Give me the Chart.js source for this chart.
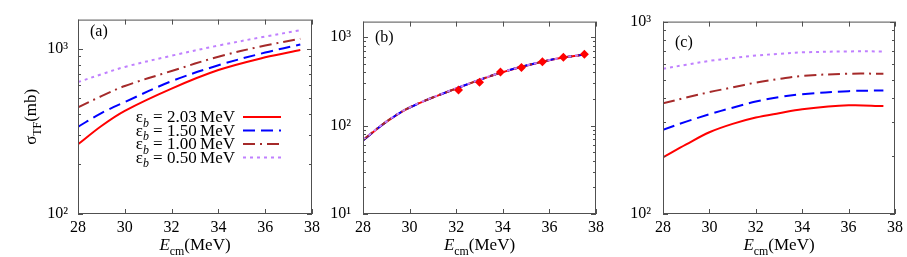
<!DOCTYPE html>
<html>
<head>
<meta charset="utf-8">
<script src="https://cdn.jsdelivr.net/npm/chart.js@4/dist/chart.umd.min.js"></script>
<style>
  html, body { margin: 0; padding: 0; background: #fff; }
  #wrap { position: relative; width: 907px; height: 257px; overflow: hidden; }
  #wrap canvas { position: absolute; top: 0; }
</style>
</head>
<body>
<div id="wrap">
  <canvas id="pa" width="330" height="257" style="left:0"></canvas>
  <canvas id="pb" width="300" height="257" style="left:320px"></canvas>
  <canvas id="pc" width="287" height="257" style="left:620px"></canvas>
</div>
<script>
// --- data --------------------------------------------------------------
var X_TICKS = [28, 30, 32, 34, 36, 38];
var EB_LABELS = ['2.03', '1.50', '1.00', '0.50'];

// (a)
var XA = [28, 29, 30, 32, 34, 36, 37.5];
var A_203 = [264, 341, 421, 574, 743, 887, 982];
var A_150 = [337, 408, 476, 636, 794, 948, 1059];
var A_100 = [442, 516, 595, 733, 895, 1045, 1148];
var A_050 = [628, 700, 776, 907, 1045, 1184, 1293];
var YA_TICKS = [100, 1000];
var YA_LABELS = ['10\u00b2', '10\u00b3'];

// (b)
var XB = [28, 29, 30, 32, 34, 36, 37.5];
var B_203 = [68, 110, 160, 262, 402, 549, 637];
var B_150 = [68, 110, 160, 263, 403, 550, 638];
var B_100 = [69, 111, 161, 263, 403, 550, 638];
var B_050 = [69, 111, 161, 264, 404, 551, 639];
var EXP_X = [32.1, 33.0, 33.9, 34.8, 35.7, 36.6, 37.5];
var EXP_Y = [252, 309, 405, 455, 528, 591, 643];
var YB_TICKS = [10, 100, 1000];
var YB_LABELS = ['10\u00b9', '10\u00b2', '10\u00b3'];

// (c)
var XC = [28, 29, 30, 31, 32, 33, 34, 36, 37.5];
var C_203 = [197, 230, 266, 294, 317, 334, 350, 367, 364];
var C_150 = [274, 302, 330, 357, 384, 405, 419, 435, 439];
var C_100 = [376, 403, 430, 455, 482, 503, 522, 536, 536];
var C_050 = [568, 597, 625, 646, 666, 680, 692, 700, 700];
var YC_TICKS = [100, 1000];
var YC_LABELS = ['10\u00b2', '10\u00b3'];

// --- styling ------------------------------------------------------------
var FONT = "'Liberation Serif', 'DejaVu Serif', serif";
var AXIS = '#505050';
var STYLES = [
  { color: '#ff0000', dash: [] },
  { color: '#0000ff', dash: [12, 6] },
  { color: '#a52a2a', dash: [12, 5, 2, 5] },
  { color: '#c080ff', dash: [3, 4] }
];

function pts(xs, ys) { return xs.map(function (x, i) { return { x: x, y: ys[i] }; }); }

function curves(xs, series) {
  return series.map(function (ys, i) {
    return {
      data: pts(xs, ys), borderColor: STYLES[i].color, borderDash: STYLES[i].dash,
      borderWidth: 2, pointRadius: 0, fill: false, tension: 0.35,
      order: 3 - i
    };
  });
}

// text with italic / sub-script pieces, drawn left to right from x
function richWidth(ctx, parts, size) {
  var w = 0;
  parts.forEach(function (p) {
    var s = p.sub ? size * 0.7 : size;
    ctx.font = (p.it ? 'italic ' : '') + s + 'px ' + FONT;
    w += ctx.measureText(p.t).width;
  });
  return w;
}
function richText(ctx, parts, x, y, size) {
  ctx.textBaseline = 'alphabetic';
  ctx.textAlign = 'left';
  parts.forEach(function (p) {
    var s = p.sub ? size * 0.7 : size;
    ctx.font = (p.it ? 'italic ' : '') + s + 'px ' + FONT;
    ctx.fillText(p.t, x, y + (p.sub ? size * 0.28 : 0));
    x += ctx.measureText(p.t).width;
  });
}

var decor = {
  id: 'decor',
  afterDraw: function (chart, args, o) {
    var ctx = chart.ctx, a = chart.chartArea;
    var xs = chart.scales.x, ys = chart.scales.y;
    ctx.save();
    ctx.strokeStyle = AXIS;
    ctx.lineWidth = 1;
    ctx.strokeRect(a.left + 0.5, a.top + 0.5, a.right - a.left - 1, a.bottom - a.top - 1);

    ctx.beginPath();
    X_TICKS.forEach(function (v) {
      var px = Math.round(xs.getPixelForValue(v)) + 0.5;
      ctx.moveTo(px, a.bottom); ctx.lineTo(px, a.bottom - 5);
      ctx.moveTo(px, a.top); ctx.lineTo(px, a.top + 5);
    });
    // log ticks: decades long, 2..9 short
    for (var d = Math.pow(10, Math.floor(Math.log10(ys.min))); d <= ys.max; d *= 10) {
      for (var m = 1; m <= 9; m++) {
        var v = d * m;
        if (v < ys.min * 0.999 || v > ys.max * 1.001) continue;
        var py = Math.round(ys.getPixelForValue(v)) + 0.5;
        var len = m === 1 ? 5 : 3;
        ctx.moveTo(a.left, py); ctx.lineTo(a.left + len, py);
        ctx.moveTo(a.right, py); ctx.lineTo(a.right - len, py);
      }
    }
    ctx.stroke();

    ctx.fillStyle = '#000';
    ctx.font = '16px ' + FONT;
    ctx.textBaseline = 'middle';
    ctx.fillText(o.label, a.left + 12, a.top + o.labelDy);

    // x title
    var xt = [{ t: 'E', it: true }, { t: 'cm', sub: true }, { t: '(MeV)' }];
    var w = richWidth(ctx, xt, 17);
    richText(ctx, xt, (a.left + a.right) / 2 - w / 2, 250, 17);

    if (o.yTitle) {
      var yt = [{ t: '\u03c3' }, { t: 'TF', sub: true }, { t: '(mb)' }];
      var wy = richWidth(ctx, yt, 17);
      ctx.save();
      ctx.translate(36, (a.top + a.bottom) / 2);
      ctx.rotate(-Math.PI / 2);
      richText(ctx, yt, -wy / 2, 0, 17);
      ctx.restore();
    }

    if (o.legend) {
      EB_LABELS.forEach(function (lab, i) {
        var y = 117 + i * 13.5;
        var parts = [{ t: '\u03b5' }, { t: 'b', it: true, sub: true }, { t: ' = ' + lab + '\u2009MeV' }];
        var lw = richWidth(ctx, parts, 17);
        richText(ctx, parts, 235 - lw, y + 5, 17);
        ctx.beginPath();
        ctx.strokeStyle = STYLES[i].color;
        ctx.setLineDash(STYLES[i].dash);
        ctx.lineWidth = 2;
        ctx.moveTo(243, y); ctx.lineTo(281, y);
        ctx.stroke();
      });
      ctx.setLineDash([]);
    }
    ctx.restore();
  }
};

function panel(id, datasets, ymin, ymax, yTicks, yLabels, yWidth, yPad, padRight, deco) {
  return new Chart(document.getElementById(id), {
    type: 'line',
    data: { datasets: datasets },
    options: {
      responsive: false, animation: false,
      layout: { padding: { left: 0, right: padRight, top: 11, bottom: 0 } },
      plugins: { legend: { display: false }, tooltip: { enabled: false }, decor: deco },
      scales: {
        x: {
          type: 'linear', min: 28, max: 38,
          afterBuildTicks: function (s) { s.ticks = X_TICKS.map(function (v) { return { value: v }; }); },
          afterFit: function (s) { s.height = 43; },
          grid: { display: false, drawTicks: false }, border: { display: false },
          ticks: { color: '#000', font: { family: FONT, size: 16 }, padding: 4, maxRotation: 0 }
        },
        y: {
          type: 'logarithmic', min: ymin, max: ymax,
          afterBuildTicks: function (s) { s.ticks = yTicks.map(function (v) { return { value: v }; }); },
          afterFit: function (s) { s.width = yWidth; },
          grid: { display: false, drawTicks: false }, border: { display: false },
          ticks: {
            color: '#000', font: { family: FONT, size: 16 }, padding: yPad,
            callback: function (v) { var i = yTicks.indexOf(v); return i < 0 ? '' : yLabels[i]; }
          }
        }
      }
    },
    plugins: [decor]
  });
}

panel('pa', curves(XA, [A_203, A_150, A_100, A_050]), 100, 1500, YA_TICKS, YA_LABELS, 78, 10, 18,
  { label: '(a)', labelDy: 12, yTitle: true, legend: true });

var dsB = curves(XB, [B_203, B_150, B_100, B_050]);
dsB.push({
  data: pts(EXP_X, EXP_Y), showLine: false, pointStyle: 'rectRot', pointRadius: 4.5,
  pointBackgroundColor: '#ff0000', pointBorderColor: '#ff0000', pointBorderWidth: 0, order: -1
});
panel('pb', dsB, 10, 1500, YB_TICKS, YB_LABELS, 43, 12, 24, { label: '(b)', labelDy: 16 });

panel('pc', curves(XC, [C_203, C_150, C_100, C_050]), 100, 1000, YC_TICKS, YC_LABELS, 43, 12, 11,
  { label: '(c)', labelDy: 21 });
</script>
</body>
</html>
